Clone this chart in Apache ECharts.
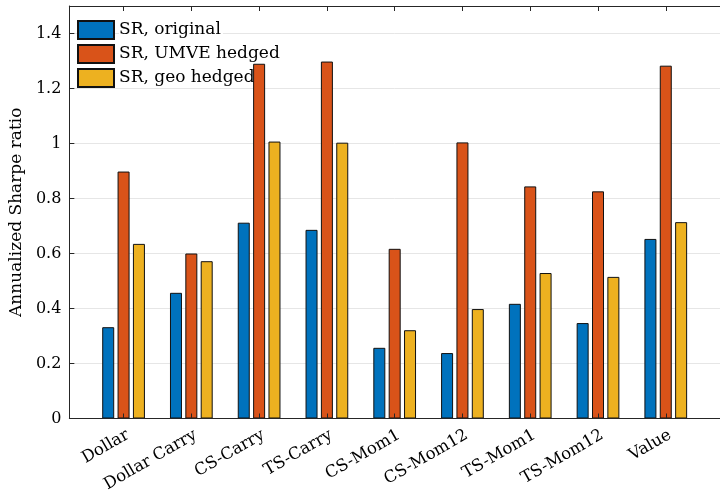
<!DOCTYPE html>
<html>
<head>
<meta charset="utf-8">
<script src="https://cdn.jsdelivr.net/npm/echarts@6/dist/echarts.min.js"></script>
<style>
  html, body { margin: 0; padding: 0; background: #fff; }
  #chart { width: 720px; height: 495px; }
</style>
</head>
<body>
<div id="chart"></div>
<script>
// Factor strategies along the x axis
const categories = ['Dollar', 'Dollar Carry', 'CS-Carry', 'TS-Carry', 'CS-Mom1',
                    'CS-Mom12', 'TS-Mom1', 'TS-Mom12', 'Value'];

// Annualized Sharpe ratios per strategy
const srOriginal = [0.332, 0.457, 0.712, 0.686, 0.257, 0.238, 0.417, 0.347, 0.653];
const srUmve     = [0.898, 0.600, 1.290, 1.298, 0.617, 1.004, 0.844, 0.826, 1.283];
const srGeo      = [0.635, 0.572, 1.007, 1.003, 0.321, 0.398, 0.529, 0.515, 0.714];

const seriesNames = ['SR, original', 'SR, UMVE hedged', 'SR, geo hedged'];
const yTicks = [0, 0.2, 0.4, 0.6, 0.8, 1, 1.2, 1.4];

const positions = categories.map((_, i) => i + 1);
const colors = ['#0072BD', '#D95319', '#EDB120'];
const FONT = '"DejaVu Serif", "Liberation Serif", serif';
const AXIS_COLOR = '#262626';

function toPoints(values) {
  return values.map((v, i) => [positions[i], v]);
}

const chart = echarts.init(document.getElementById('chart'), null, { renderer: 'canvas' });

const baseX = {
  type: 'value',
  min: 0.2,
  max: 9.8,
  z: 5,
  axisLine: { show: true, onZero: false, lineStyle: { color: AXIS_COLOR, width: 1 } },
  axisTick: { show: true, inside: true, length: 5, customValues: positions,
              lineStyle: { color: AXIS_COLOR } },
  splitLine: { show: false }
};

chart.setOption({
  animation: false,
  backgroundColor: '#fff',
  color: colors,
  grid: { left: 68, right: -11, top: 6, bottom: 76.5, containLabel: false },
  legend: {
    orient: 'vertical',
    left: 72,
    top: 15,
    z: 1,
    itemWidth: 36,
    itemHeight: 18,
    itemGap: 4,
    icon: 'rect',
    textStyle: { fontFamily: FONT, fontSize: 17, lineHeight: 18, color: '#000',
                 backgroundColor: '#fff', padding: [0, 2, 0, 0] },
    data: seriesNames
  },
  xAxis: [
    Object.assign({}, baseX, {
      position: 'bottom',
      axisLabel: {
        customValues: positions,
        formatter: v => categories[Math.round(v) - 1] || '',
        rotate: 30,
        verticalAlign: 'top',
        margin: 8,
        fontFamily: FONT,
        fontSize: 16.5,
        color: '#000'
      }
    }),
    Object.assign({}, baseX, {
      position: 'top',
      axisLabel: { show: false }
    })
  ],
  yAxis: {
    type: 'value',
    min: 0,
    max: 1.5,
    name: 'Annualized Sharpe ratio',
    nameLocation: 'middle',
    nameGap: 40,
    nameTextStyle: { fontFamily: FONT, fontSize: 17, color: '#000' },
    axisLine: { show: true, lineStyle: { color: AXIS_COLOR, width: 1 } },
    axisTick: { show: true, inside: true, length: 5, customValues: yTicks,
                lineStyle: { color: AXIS_COLOR } },
    axisLabel: { customValues: yTicks, margin: 8, fontFamily: FONT, fontSize: 16, color: '#000' },
    splitLine: { show: true, lineStyle: { color: '#e6e6e6', width: 1 } }
  },
  series: [srOriginal, srUmve, srGeo].map((vals, k) => ({
    name: seriesNames[k],
    type: 'bar',
    barWidth: 12,
    barGap: '28%',
    data: toPoints(vals),
    itemStyle: { color: colors[k], borderColor: '#111', borderWidth: 1 }
  }))
});
</script>
</body>
</html>
